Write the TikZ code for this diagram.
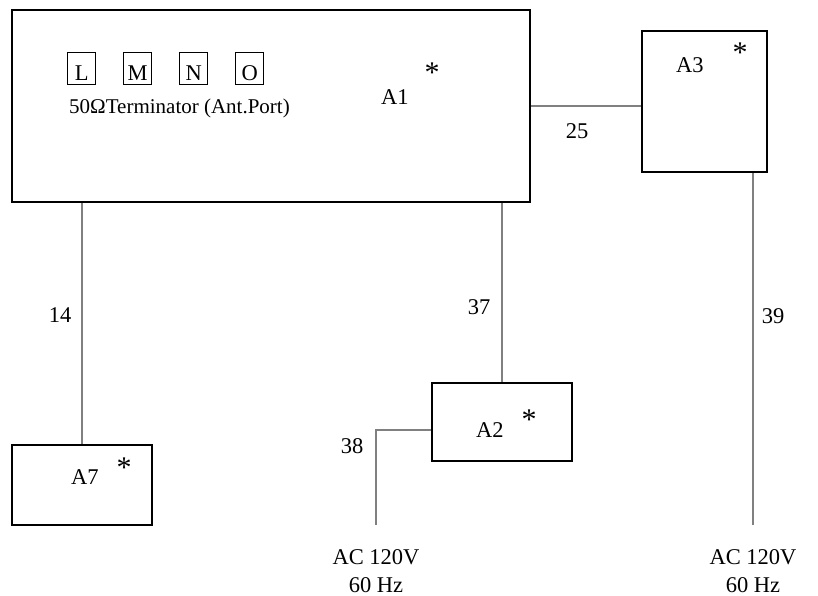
\documentclass[tikz,border=0pt]{standalone}
\usepackage{fontspec}
\setmainfont{Liberation Serif}
\begin{document}
\begin{tikzpicture}[x=1pt, y=-1pt,
    font=\fontsize{22.5}{28}\selectfont,
    unit/.style={draw, line width=2pt, inner sep=0pt},
    port/.style={draw, line width=1.4pt, minimum width=28pt, inner sep=4pt,
        text height=24pt, text depth=0pt, anchor=north west},
    wire/.style={draw=gray, line width=1.2pt},
    lbl/.style={inner sep=0pt, anchor=base west},
    star/.style={inner sep=0pt, font=\fontsize{30}{30}\selectfont}]
    \useasboundingbox (0,0) rectangle (818,596);

    % Các khối chính
    \node[unit, minimum width=518pt, minimum height=192pt] (A1) at (271,106) {};
    \node[unit, minimum width=125pt, minimum height=141pt] (A3) at (704.5,101.5) {};
    \node[unit, minimum width=140pt, minimum height=78pt] (A2) at (502,422) {};
    \node[unit, minimum width=140pt, minimum height=80pt] (A7) at (82,485) {};

    % Cổng L M N O và chữ bên trong A1
    \node[port] (pL) at (67,52) {L};
    \node[port] (pM) at (123,52) {M};
    \node[port] (pN) at (179,52) {N};
    \node[port] (pO) at (235,52) {O};
    \node[lbl, font=\fontsize{21}{25}\selectfont] (term) at (69,114) {50Ω\hspace{0pt}Terminator (Ant.Port)};

    % Tên khối và dấu sao
    \node[lbl] (nA1) at (381,105) {A1};
    \node[star] (sA1) at (432,73) {*};
    \node[lbl] (nA3) at (676,73) {A3};
    \node[star] (sA3) at (740,53) {*};
    \node[lbl] (nA2) at (476,437) {A2};
    \node[star] (sA2) at (529,420) {*};
    \node[lbl] (nA7) at (71,484) {A7};
    \node[star] (sA7) at (124,468) {*};

    % Đầu dây nguồn
    \coordinate (c38) at (376,430);
    \coordinate (ac1) at (376,525);
    \coordinate (ac2) at (753,525);

    % Các dây nối
    \draw[wire] (A1.south -| A7.north) -- (A7.north);
    \draw[wire] (A1.south -| A2.north) -- (A2.north);
    \draw[wire] (A1.east) -- (A1.east -| A3.west);
    \draw[wire] (A3.south -| ac2) -- (ac2);
    \draw[wire] (c38 -| A2.west) -- (c38) -- (ac1);

    % Số hiệu dây
    \node (w14) at (60,315) {14};
    \node (w37) at (479,307) {37};
    \node (w25) at (577,131) {25};
    \node (w39) at (773,316) {39};
    \node (w38) at (352,446) {38};

    % Nguồn AC
    \node[align=center, inner sep=0pt, anchor=north] (pw1) at (376,549.5) {AC 120V\\60 Hz};
    \node[align=center, inner sep=0pt, anchor=north] (pw2) at (753,549.5) {AC 120V\\60 Hz};
\end{tikzpicture}
\end{document}
